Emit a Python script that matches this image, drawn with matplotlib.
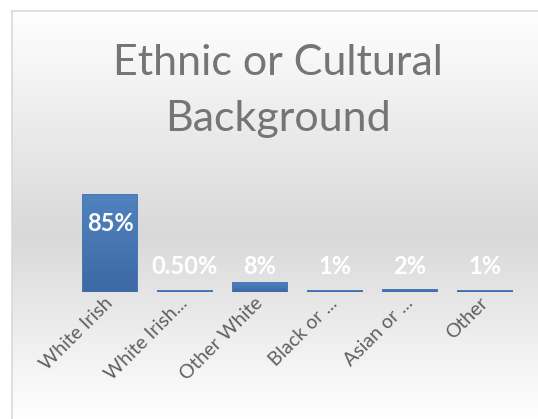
import matplotlib.pyplot as plt
import numpy as np

categories = ['White Irish', 'White Irish...', 'Other White', 'Black or ...', 'Asian or ...', 'Other']
values = [85, 0.5, 8, 1, 2, 1]
value_labels = ['85%', '0.50%', '8%', '1%', '2%', '1%']
TITLE = 'Ethnic or Cultural\nBackground'

plt.rcParams['font.family'] = ['Lato', 'DejaVu Sans']

fig = plt.figure(figsize=(5.38, 4.19), dpi=100)

# background: white -> grey -> white, inside the chart border
bg = fig.add_axes([0, 0, 1, 1], zorder=0)
bg.set_xlim(0, 538)
bg.set_ylim(419, 0)
bg.axis('off')
ys = np.linspace(0, 1, 400)
top, mid = 1.0, 0.85
shade = np.where(ys < 0.55, top - (top - mid) * ys / 0.55,
                 mid + (top - mid) * (ys - 0.55) / 0.45)
grad = np.repeat(shade[:, None], 2, axis=1)
bg.imshow(np.dstack([grad, grad, grad]), extent=[12, 538, 419, 11],
          aspect='auto', vmin=0, vmax=1, interpolation='bilinear')
bg.plot([12, 12], [11, 419], color='#d9d9d9', lw=1.2)
bg.plot([12, 538], [11, 11], color='#d9d9d9', lw=1.2)

fig.text(278 / 538, 1 - 91 / 419, TITLE, ha='center', va='center', fontsize=31,
         color='#757575', linespacing=1.6)

ax = fig.add_axes([72.5 / 538, 1 - 292 / 419, 450 / 538, 114 / 419], zorder=1)
ax.set_facecolor('none')
x = np.arange(len(categories))
bars = ax.bar(x, values, width=0.71, color='#4676b4', edgecolor='#4676b4',
              linewidth=1.4, zorder=2)
ax.set_xlim(-0.5, len(categories) - 0.5)
ax.set_ylim(0, 100)

# vertical gradient inside each bar
bar_grad = np.linspace(0, 1, 100)[:, None]
cmap = plt.matplotlib.colors.LinearSegmentedColormap.from_list('b', ['#3d69a5', '#5082bf'])
for b in bars:
    x0, w, h = b.get_x(), b.get_width(), b.get_height()
    im = ax.imshow(bar_grad, extent=[x0, x0 + w, 0, h], origin='lower',
                   aspect='auto', cmap=cmap, zorder=3)
    im.set_clip_path(b)

for xi, v, lab in zip(x, values, value_labels):
    ly = v - 25 if v > 30 else 22
    ax.text(xi, ly, lab, ha='center', va='center', color='white',
            fontsize=17, fontweight='bold', zorder=4)

ax.set_xticks(x)
ax.set_xticklabels(categories, rotation=45, ha='right', va='center',
                   rotation_mode='anchor', fontsize=14, color='#606060')
ax.tick_params(axis='x', length=0, pad=6)
ax.set_yticks([])
for s in ax.spines.values():
    s.set_visible(False)

fig.savefig('out.png', dpi=100)
